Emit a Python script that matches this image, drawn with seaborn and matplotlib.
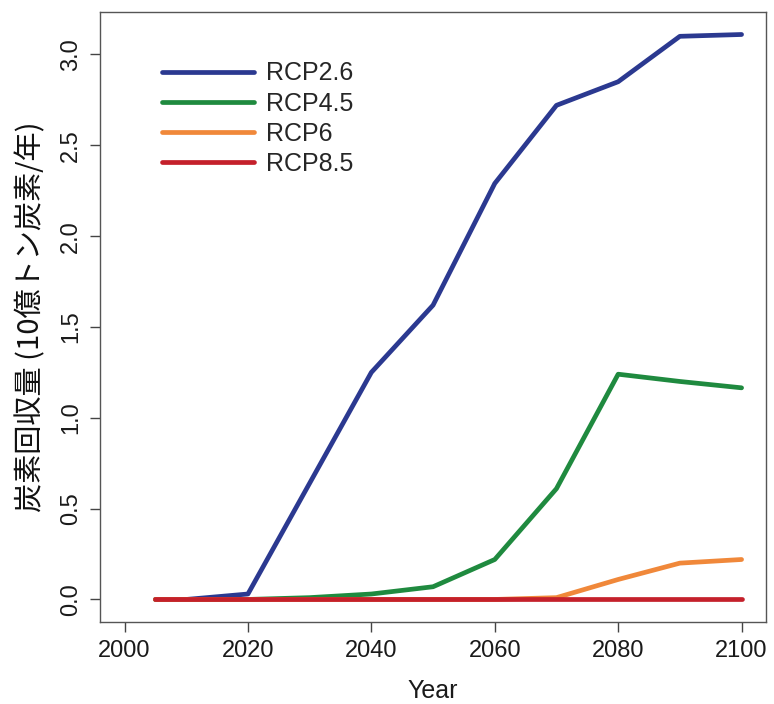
import numpy as np
import pandas as pd
import matplotlib
matplotlib.use("Agg")
import matplotlib.pyplot as plt
import seaborn as sns

years = [2005, 2010, 2020, 2030, 2040, 2050, 2060, 2070, 2080, 2090, 2100]
rcp26 = [0.0, 0.0, 0.03, 0.64, 1.25, 1.62, 2.29, 2.72, 2.85, 3.10, 3.11]
rcp45 = [0.0, 0.0, 0.0, 0.01, 0.03, 0.07, 0.22, 0.61, 1.24, 1.20, 1.165]
rcp6 = [0.0, 0.0, 0.0, 0.0, 0.0, 0.0, 0.0, 0.01, 0.11, 0.20, 0.22]
rcp85 = [0.0, 0.0, 0.0, 0.0, 0.0, 0.0, 0.0, 0.0, 0.0, 0.0, 0.0]
scenarios = ["RCP2.6", "RCP4.5", "RCP6", "RCP8.5"]
colors = ["#2b3990", "#1f8a3f", "#f0883a", "#c4202b"]
xticks = [2000, 2020, 2040, 2060, 2080, 2100]
yticks = [0.0, 0.5, 1.0, 1.5, 2.0, 2.5, 3.0]

rows = []
for name, vals in zip(scenarios, [rcp26, rcp45, rcp6, rcp85]):
    for y, v in zip(years, vals):
        rows.append({"Year": y, "value": v, "scenario": name})
df = pd.DataFrame(rows)

sns.set_theme(style="ticks")
plt.rcParams['font.family'] = ['Liberation Sans', 'Noto Sans CJK JP', 'DejaVu Sans']

fig = plt.figure(figsize=(7.74, 7.04), dpi=100)
ax = fig.add_axes([0.129, 0.1165, 0.861, 0.8665])
sns.lineplot(data=df, x="Year", y="value", hue="scenario", hue_order=scenarios,
             palette=dict(zip(scenarios, colors)), linewidth=3.4, ax=ax)

ax.set_xlim(1996, 2104)
ax.set_ylim(-0.124, 3.234)
ax.set_xticks(xticks)
ax.set_xticklabels([str(t) for t in xticks])
ax.set_yticks(yticks)
ax.set_yticklabels([f"{t:.1f}" for t in yticks], rotation=90, va="center")
ax.tick_params(axis="both", labelsize=17, length=7, width=1, color="#444444", labelcolor="#1a1a1a", pad=6)
ax.set_xlabel("Year", fontsize=18, color="#1a1a1a", labelpad=12)
ax.set_ylabel("炭素回収量 (10億トン炭素/年)", fontsize=21, color="#111111", labelpad=10,
              family=['Noto Sans CJK JP', 'DejaVu Sans'])
for s in ax.spines.values():
    s.set_visible(True)
    s.set_color("#555555")
    s.set_linewidth(1.0)

ax.legend(loc="upper left", bbox_to_anchor=(0.06, 0.956), frameon=False, fontsize=18,
          handlelength=3.65, handletextpad=0.5, labelspacing=0.25)

fig.savefig("out.png", dpi=100)
